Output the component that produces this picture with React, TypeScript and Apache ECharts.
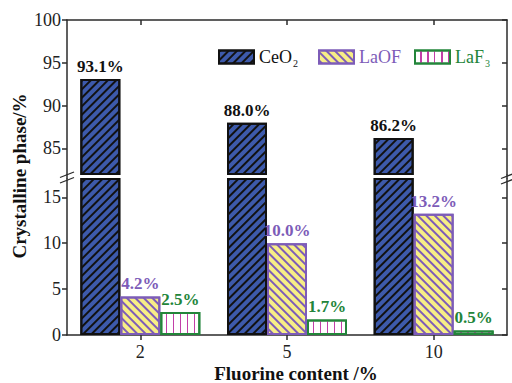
import React, { useEffect, useRef } from "react";
import * as echarts from "echarts";

// Fluorine content groups and crystalline phase shares (%)
const categories = ["2", "5", "10"];
const ceo2 = [93.1, 88.0, 86.2];
const laof = [4.2, 10.0, 13.2];
const laf3 = [2.5, 1.7, 0.5];
const emptyRow = ["-", "-", "-"];

// Broken y axis: upper segment and lower segment
const upperRange = [82, 100];
const lowerRange = [0, 17];
const upperTicks = [85, 90, 95, 100];
const lowerTicks = [0, 5, 10, 15];

const FONT = "Liberation Serif";
const AXIS_COLOR = "#2b2b2b";

const CEO2_FILL = "#3d5aab";
const CEO2_LINE = "#111111";
const LAOF_FILL = "#f7ee86";
const LAOF_LINE = "#7d5cb8";
const LAF3_FILL = "#ffffff";
const LAF3_LINE = "#c23fa8";
const LAF3_EDGE = "#23853a";

const pct = (p: any) => Number(p.value).toFixed(1) + "%";

const styles: Record<string, any> = {
  CeO2: {
    itemStyle: {
      color: CEO2_FILL,
      borderColor: CEO2_LINE,
      borderWidth: 2,
      decal: {
        symbol: "rect",
        symbolSize: 1,
        dashArrayX: [1, 0],
        dashArrayY: [1.6, 3.2],
        rotation: -Math.PI / 4,
        color: CEO2_LINE,
      },
    },
    labelColor: "#111111",
  },
  LaOF: {
    itemStyle: {
      color: LAOF_FILL,
      borderColor: LAOF_LINE,
      borderWidth: 2,
      decal: {
        symbol: "rect",
        symbolSize: 1,
        dashArrayX: [1, 0],
        dashArrayY: [1.4, 3.4],
        rotation: Math.PI / 4,
        color: LAOF_LINE,
      },
    },
    labelColor: LAOF_LINE,
  },
  LaF3: {
    itemStyle: {
      color: LAF3_FILL,
      borderColor: LAF3_EDGE,
      borderWidth: 2,
      decal: {
        symbol: "rect",
        symbolSize: 1,
        dashArrayX: [1, 0],
        dashArrayY: [1.6, 5],
        rotation: Math.PI / 2,
        color: LAF3_LINE,
      },
    },
    labelColor: LAF3_EDGE,
  },
};

function barSeries(name: string, data: any[], grid: number, withLabel: boolean) {
  const s = styles[name];
  return {
    type: "bar",
    name,
    data,
    xAxisIndex: grid,
    yAxisIndex: grid * 2,
    barWidth: 40,
    barGap: "0%",
    clip: true,
    itemStyle: s.itemStyle,
    emphasis: { disabled: true },
    label: {
      show: withLabel,
      position: "top",
      distance: 4,
      formatter: pct,
      fontFamily: FONT,
      fontWeight: "bold",
      fontSize: 17,
      color: s.labelColor,
    },
  };
}

function legendFor(name: string, left: number, color: string) {
  return {
    data: [name],
    left,
    top: 43,
    icon: "rect",
    itemWidth: 35,
    itemHeight: 13,
    itemGap: 0,
    selectedMode: false,
    formatter: (n: string) => {
      if (n === "CeO2") return "CeO{sub|2}";
      if (n === "LaF3") return "LaF{sub|3}";
      return n;
    },
    textStyle: {
      fontFamily: FONT,
      fontSize: 18,
      color,
      rich: {
        sub: {
          fontFamily: FONT,
          fontSize: 10,
          color,
          verticalAlign: "bottom",
          padding: [12, 0, 0, 1],
        },
      },
    },
  };
}

function yAxis(grid: number, side: "left" | "right", range: number[], ticks: number[]) {
  const isLeft = side === "left";
  return {
    type: "value",
    gridIndex: grid,
    position: side,
    min: range[0],
    max: range[1],
    axisLine: { show: true, lineStyle: { color: AXIS_COLOR, width: 1.5 } },
    axisTick: {
      show: true,
      inside: !isLeft,
      length: 5,
      customValues: ticks,
      lineStyle: { color: AXIS_COLOR, width: 1.5 },
    },
    axisLabel: {
      show: isLeft,
      customValues: ticks,
      margin: 6,
      fontFamily: FONT,
      fontSize: 18,
      color: "#222222",
    },
    splitLine: { show: false },
  };
}

export default function App() {
  const ref = useRef<HTMLDivElement>(null);

  useEffect(() => {
    if (!ref.current) return;
    const chart = echarts.init(ref.current, null, { renderer: "svg" });

    const gridLeft = 67;
    const gridRight = 507;
    const upperBottom = 174;
    const lowerTop = 179;

    const option: any = {
      animation: false,
      backgroundColor: "#ffffff",
      textStyle: { fontFamily: FONT },
      grid: [
        { left: gridLeft, right: 512 - gridRight, top: 20, height: upperBottom - 20 },
        { left: gridLeft, right: 512 - gridRight, top: lowerTop, height: 335 - lowerTop },
      ],
      legend: [
        legendFor("CeO2", 213, "#111111"),
        legendFor("LaOF", 313, LAOF_LINE),
        legendFor("LaF3", 409, LAF3_EDGE),
      ],
      xAxis: [
        {
          type: "category",
          gridIndex: 0,
          position: "top",
          data: categories,
          axisLine: { show: true, lineStyle: { color: AXIS_COLOR, width: 1.5 } },
          axisTick: { show: true, inside: true, length: 5, alignWithLabel: true, lineStyle: { color: AXIS_COLOR, width: 1.5 } },
          axisLabel: { show: false },
        },
        {
          type: "category",
          gridIndex: 1,
          position: "bottom",
          data: categories,
          axisLine: { show: true, lineStyle: { color: AXIS_COLOR, width: 1.5 } },
          axisTick: { show: true, inside: false, length: 5, alignWithLabel: true, lineStyle: { color: AXIS_COLOR, width: 1.5 } },
          axisLabel: { margin: 8, fontFamily: FONT, fontSize: 18, color: "#222222" },
        },
      ],
      yAxis: [
        yAxis(0, "left", upperRange, upperTicks),
        yAxis(0, "right", upperRange, upperTicks),
        yAxis(1, "left", lowerRange, lowerTicks),
        yAxis(1, "right", lowerRange, lowerTicks),
      ],
      series: [
        barSeries("CeO2", ceo2, 0, true),
        barSeries("LaOF", emptyRow, 0, false),
        barSeries("LaF3", emptyRow, 0, false),
        barSeries("CeO2", ceo2, 1, false),
        barSeries("LaOF", laof, 1, true),
        barSeries("LaF3", laf3, 1, true),
      ],
      graphic: [
        // frame segments bridging the axis break
        { type: "line", shape: { x1: gridLeft, y1: upperBottom, x2: gridLeft, y2: lowerTop }, style: { stroke: AXIS_COLOR, lineWidth: 1.5 } },
        { type: "line", shape: { x1: gridRight, y1: upperBottom, x2: gridRight, y2: lowerTop }, style: { stroke: AXIS_COLOR, lineWidth: 1.5 } },
        // break marks
        { type: "line", shape: { x1: 60, y1: 177.5, x2: 74, y2: 172 }, style: { stroke: AXIS_COLOR, lineWidth: 1.3 } },
        { type: "line", shape: { x1: 60, y1: 183, x2: 74, y2: 177.5 }, style: { stroke: AXIS_COLOR, lineWidth: 1.3 } },
        { type: "line", shape: { x1: 501, y1: 178.5, x2: 514, y2: 173.5 }, style: { stroke: AXIS_COLOR, lineWidth: 1.3 } },
        { type: "line", shape: { x1: 501, y1: 184, x2: 514, y2: 179 }, style: { stroke: AXIS_COLOR, lineWidth: 1.3 } },
        // axis titles
        {
          type: "text",
          x: 19,
          y: 176,
          rotation: Math.PI / 2,
          style: {
            text: "Crystalline phase/%",
            fontFamily: FONT,
            fontWeight: "bold",
            fontSize: 19,
            fill: "#111111",
            align: "center",
            verticalAlign: "middle",
          },
        },
        {
          type: "text",
          x: 296,
          y: 373,
          style: {
            text: "Fluorine content /%",
            fontFamily: FONT,
            fontWeight: "bold",
            fontSize: 19,
            fill: "#111111",
            align: "center",
            verticalAlign: "middle",
          },
        },
      ],
    };

    chart.setOption(option);
    return () => chart.dispose();
  }, []);

  return (
    <div
      ref={ref}
      style={{ position: "fixed", left: 0, top: 0, width: 512, height: 383 }}
    />
  );
}
